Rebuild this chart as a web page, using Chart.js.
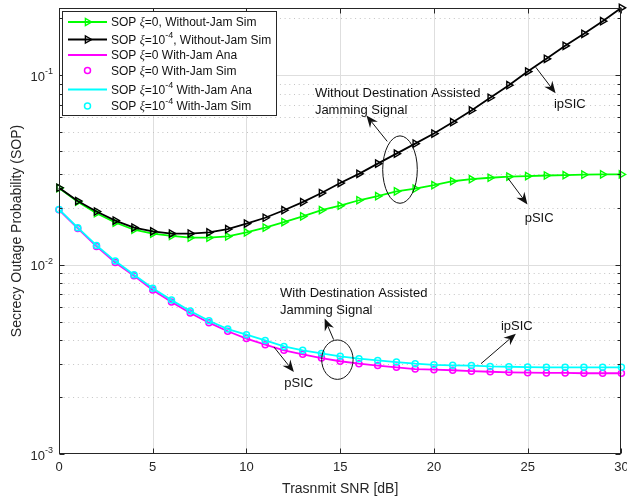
<!DOCTYPE html>
<html>
<head>
<meta charset="utf-8">
<script src="https://cdn.jsdelivr.net/npm/chart.js@4/dist/chart.umd.min.js"></script>
<style>
html,body{margin:0;padding:0;background:#fff}
canvas{display:block}
</style>
</head>
<body>
<canvas id="c" width="627" height="500"></canvas>
<script>
// Transmit SNR grid (dB)
const snr = [0,1,2,3,4,5,6,7,8,9,10,11,12,13,14,15,16,17,18,19,20,21,22,23,24,25,26,27,28,29,30];

// SOP without destination-assisted jamming (simulation)
const sopNoJamXi0 = [0.0254,0.0215,0.0187,0.0167,0.0153,0.0146,0.0142,0.0139,0.0139,0.0141,0.0148,0.0157,0.0168,0.0180,0.0194,0.0205,0.0219,0.0230,0.0244,0.0252,0.0263,0.0276,0.0283,0.0288,0.0292,0.0294,0.0296,0.0297,0.0299,0.0300,0.0300];
const sopNoJamXi4 = [0.0255,0.0217,0.0191,0.0171,0.0157,0.0150,0.0146,0.0146,0.0148,0.0154,0.0165,0.0177,0.0194,0.0214,0.0239,0.0270,0.0302,0.0342,0.0386,0.0436,0.0493,0.0566,0.0653,0.0762,0.0888,0.1048,0.1224,0.1433,0.1658,0.1933,0.2275];

// SOP with destination-assisted jamming (analysis; simulation points coincide)
const sopJamXi0 = [0.01950,0.01555,0.01249,0.01028,0.00873,0.00736,0.00636,0.00556,0.00494,0.00445,0.00407,0.00378,0.00353,0.00336,0.00321,0.00309,0.00300,0.00293,0.00287,0.00281,0.00279,0.00277,0.00274,0.00272,0.00270,0.00269,0.00268,0.00268,0.00267,0.00267,0.00267];
const sopJamXi4 = [0.01959,0.01568,0.01264,0.01045,0.00886,0.00750,0.00650,0.00569,0.00506,0.00457,0.00427,0.00398,0.00370,0.00353,0.00340,0.00328,0.00319,0.00312,0.00306,0.00300,0.00296,0.00294,0.00293,0.00290,0.00289,0.00288,0.00287,0.00287,0.00287,0.00287,0.00287];

// Axis ticks
const xTickValues = [0,5,10,15,20,25,30];
const yTickValues = [1e-3,1e-2,1e-1];
const yTickLabels = ['10^{-3}','10^{-2}','10^{-1}'];

// Legend entries
const seriesLabels = [
  'SOP ξ=0, Without-Jam Sim',
  'SOP ξ=10^{-4}, Without-Jam Sim',
  'SOP ξ=0 With-Jam Ana',
  'SOP ξ=0 With-Jam Sim',
  'SOP ξ=10^{-4} With-Jam Ana',
  'SOP ξ=10^{-4} With-Jam Sim'
];

const xTitle = 'Trasnmit SNR [dB]';
const yTitle = 'Secrecy Outage Probability (SOP)';

const GREEN = '#00ff00', BLACK = '#000000', MAGENTA = '#ff00ff', CYAN = '#00ffff';
const AXIS = '#262626';
const SANS = '"Liberation Sans", Arial, sans-serif';

const pts = arr => snr.map((x, i) => ({x, y: arr[i]}));

function richParts(str) {
  const out = []; let buf = ''; let i = 0;
  while (i < str.length) {
    if (str[i] === '^' && str[i + 1] === '{') {
      if (buf) { out.push({t: buf}); buf = ''; }
      const j = str.indexOf('}', i);
      out.push({t: str.slice(i + 2, j), sup: true});
      i = j + 1;
    } else if (str[i] === 'ξ') {
      if (buf) { out.push({t: buf}); buf = ''; }
      out.push({t: 'ξ', it: true});
      i++;
    } else { buf += str[i]; i++; }
  }
  if (buf) out.push({t: buf});
  return out;
}

function drawRich(ctx, str, x, y, size, align) {
  const parts = richParts(str);
  const fontFor = p => p.sup ? `${Math.round(size * 0.72)}px ${SANS}`
    : p.it ? `italic ${size}px "Liberation Serif", serif` : `${size}px ${SANS}`;
  let w = 0;
  parts.forEach(p => { ctx.font = fontFor(p); p.w = ctx.measureText(p.t).width; w += p.w; });
  let cx = align === 'right' ? x - w : align === 'center' ? x - w / 2 : x;
  ctx.textAlign = 'left';
  ctx.textBaseline = 'middle';
  parts.forEach(p => {
    ctx.font = fontFor(p);
    ctx.fillText(p.t, cx, p.sup ? y - size * 0.42 : y);
    cx += p.w;
  });
}

function drawArrow(ctx, x1, y1, x2, y2) {
  const a = Math.atan2(y2 - y1, x2 - x1);
  const ux = Math.cos(a), uy = Math.sin(a), px = -uy, py = ux;
  const L = 12, W = 5, N = 8;
  ctx.beginPath();
  ctx.moveTo(x1, y1);
  ctx.lineTo(x2 - ux * N, y2 - uy * N);
  ctx.stroke();
  ctx.beginPath();
  ctx.moveTo(x2, y2);
  ctx.lineTo(x2 - ux * L + px * W, y2 - uy * L + py * W);
  ctx.lineTo(x2 - ux * N, y2 - uy * N);
  ctx.lineTo(x2 - ux * L - px * W, y2 - uy * L - py * W);
  ctx.closePath();
  ctx.fill();
}

function triRight(ctx, x, y, r) {
  ctx.beginPath();
  ctx.moveTo(x + r, y);
  ctx.lineTo(x - r * 0.5, y - r * 0.866);
  ctx.lineTo(x - r * 0.5, y + r * 0.866);
  ctx.closePath();
  ctx.stroke();
}

// Callouts placed in data coordinates (snr, SOP)
const callouts = {
  texts: [
    {x: 13.65, y: 0.0802, lines: ['Without Destination Assisted', 'Jamming Signal'], align: 'left'},
    {x: 27.25, y: 0.0702, lines: ['ipSIC'], align: 'center'},
    {x: 25.61, y: 0.01755, lines: ['pSIC'], align: 'center'},
    {x: 11.79, y: 0.00703, lines: ['With Destination Assisted', 'Jamming Signal'], align: 'left'},
    {x: 12.79, y: 0.00235, lines: ['pSIC'], align: 'center'},
    {x: 24.42, y: 0.00472, lines: ['ipSIC'], align: 'center'}
  ],
  arrows: [
    {from: [17.51, 0.0448], to: [16.40, 0.0614]},
    {from: [25.43, 0.1105], to: [26.49, 0.0805]},
    {from: [23.93, 0.0288], to: [24.99, 0.0208]},
    {from: [14.65, 0.00402], to: [14.17, 0.00519]},
    {from: [11.47, 0.00367], to: [12.53, 0.00271]},
    {from: [22.51, 0.00300], to: [24.37, 0.00432]}
  ],
  ellipses: [
    {x: 18.19, y: 0.0318, rx: 17.3, ry: 33.7},
    {x: 14.85, y: 0.00315, rx: 15.7, ry: 19.7}
  ]
};

const frame = {
  id: 'frame',
  beforeDatasetsDraw(chart) {
    const {ctx, chartArea: ca, scales: {x, y}} = chart;
    ctx.save();
    // solid major grid
    ctx.strokeStyle = '#dedede';
    ctx.lineWidth = 1;
    xTickValues.forEach(v => {
      const px = Math.round(x.getPixelForValue(v)) + 0.5;
      if (px <= ca.left + 1 || px >= ca.right - 1) return;
      ctx.beginPath(); ctx.moveTo(px, ca.top); ctx.lineTo(px, ca.bottom); ctx.stroke();
    });
    yTickValues.forEach(v => {
      const py = Math.round(y.getPixelForValue(v)) + 0.5;
      if (py <= ca.top + 1 || py >= ca.bottom - 1) return;
      ctx.beginPath(); ctx.moveTo(ca.left, py); ctx.lineTo(ca.right, py); ctx.stroke();
    });
    // dotted minor grid
    ctx.strokeStyle = '#c4c4c4';
    ctx.setLineDash([1, 3.7]);
    yTickValues.forEach(d => {
      for (let m = 2; m <= 9; m++) {
        const v = d * m;
        if (v > y.max) break;
        const py = Math.round(y.getPixelForValue(v)) + 0.5;
        ctx.beginPath(); ctx.moveTo(ca.left, py); ctx.lineTo(ca.right, py); ctx.stroke();
      }
    });
    ctx.restore();
  },
  afterDatasetsDraw(chart) {
    const {ctx, chartArea: ca, scales: {x, y}} = chart;
    ctx.save();
    ctx.strokeStyle = AXIS;
    ctx.fillStyle = AXIS;
    ctx.lineWidth = 1;
    const L = Math.round(ca.left) + 0.5, R = Math.round(ca.right) - 0.5;
    const T = Math.round(ca.top) + 0.5, B = Math.round(ca.bottom) - 0.5;
    ctx.strokeRect(L, T, R - L, B - T);
    // ticks inside box
    ctx.beginPath();
    xTickValues.forEach(v => {
      const px = Math.round(x.getPixelForValue(v)) + 0.5;
      ctx.moveTo(px, B); ctx.lineTo(px, B - 5);
      ctx.moveTo(px, T); ctx.lineTo(px, T + 5);
    });
    yTickValues.forEach(d => {
      for (let m = 1; m <= 9; m++) {
        const v = d * m;
        if (v > y.max) break;
        const py = Math.round(y.getPixelForValue(v)) + 0.5;
        const len = m === 1 ? 5 : 3;
        ctx.moveTo(L, py); ctx.lineTo(L + len, py);
        ctx.moveTo(R, py); ctx.lineTo(R - len, py);
      }
    });
    ctx.stroke();
    // tick labels
    xTickValues.forEach(v => {
      drawRich(ctx, String(v), x.getPixelForValue(v), ca.bottom + 13, 13, 'center');
    });
    yTickValues.forEach((v, i) => {
      drawRich(ctx, yTickLabels[i], ca.left - 6, y.getPixelForValue(v) + 2, 13, 'right');
    });
    // axis titles
    drawRich(ctx, xTitle, (ca.left + ca.right) / 2, 489, 14, 'center');
    ctx.save();
    ctx.translate(17, (ca.top + ca.bottom) / 2);
    ctx.rotate(-Math.PI / 2);
    drawRich(ctx, yTitle, 0, 0, 14, 'center');
    ctx.restore();

    // callouts
    ctx.fillStyle = '#111';
    ctx.strokeStyle = '#111';
    ctx.lineWidth = 1;
    callouts.ellipses.forEach(e => {
      ctx.beginPath();
      ctx.ellipse(x.getPixelForValue(e.x), y.getPixelForValue(e.y), e.rx, e.ry, 0, 0, Math.PI * 2);
      ctx.stroke();
    });
    callouts.arrows.forEach(a => {
      drawArrow(ctx, x.getPixelForValue(a.from[0]), y.getPixelForValue(a.from[1]),
        x.getPixelForValue(a.to[0]), y.getPixelForValue(a.to[1]));
    });
    callouts.texts.forEach(t => {
      const px = x.getPixelForValue(t.x), py = y.getPixelForValue(t.y);
      t.lines.forEach((ln, k) => drawRich(ctx, ln, px, py + k * 17, 13, t.align));
    });

    // legend
    const box = {l: 62.5, t: 11.5, r: 276.5, b: 115.5};
    ctx.fillStyle = '#fff';
    ctx.fillRect(box.l, box.t, box.r - box.l, box.b - box.t);
    ctx.strokeStyle = AXIS;
    ctx.lineWidth = 1;
    ctx.strokeRect(box.l, box.t, box.r - box.l, box.b - box.t);
    const rowsY = [22, 39.5, 55, 70.5, 89.5, 106];
    chart.data.datasets.forEach((ds, i) => {
      const ry = rowsY[i];
      const x0 = 68, x1 = 107, xm = 87.5;
      ctx.strokeStyle = ds.borderColor;
      if (ds.showLine !== false) {
        ctx.lineWidth = ds.borderWidth;
        ctx.beginPath(); ctx.moveTo(x0, ry); ctx.lineTo(x1, ry); ctx.stroke();
      }
      if (ds.pointRadius > 0) {
        ctx.lineWidth = ds.pointBorderWidth;
        if (ds.pointStyle === 'circle') {
          ctx.beginPath(); ctx.arc(xm, ry, ds.pointRadius, 0, Math.PI * 2); ctx.stroke();
        } else {
          triRight(ctx, xm, ry, ds.pointRadius);
        }
      }
      ctx.fillStyle = '#111';
      drawRich(ctx, seriesLabels[i], 111, ry + 1, 12, 'left');
    });
    ctx.restore();
  }
};

const lineSet = (label, data, color, order) => ({
  label, data: pts(data), borderColor: color, backgroundColor: 'transparent',
  borderWidth: 1.8, pointRadius: 0, pointHoverRadius: 0, showLine: true,
  tension: 0, clip: false, order
});
const triSet = (label, data, color, order) => ({
  label, data: pts(data), borderColor: color, backgroundColor: 'transparent',
  borderWidth: 1.8, pointStyle: 'triangle', rotation: 90, pointRadius: 4.2,
  pointBorderWidth: 1.4, pointBorderColor: color, pointBackgroundColor: 'transparent',
  pointHoverRadius: 4.2, showLine: true, tension: 0, clip: false, order
});
const circSet = (label, data, color, order) => ({
  label, data: pts(data), borderColor: color, backgroundColor: 'transparent',
  borderWidth: 1.5, pointStyle: 'circle', pointRadius: 3,
  pointBorderWidth: 1.5, pointBorderColor: color, pointBackgroundColor: 'transparent',
  pointHoverRadius: 3, showLine: false, clip: false, order
});

new Chart(document.getElementById('c'), {
  type: 'line',
  data: {
    datasets: [
      triSet(seriesLabels[0], sopNoJamXi0, GREEN, 6),
      triSet(seriesLabels[1], sopNoJamXi4, BLACK, 5),
      lineSet(seriesLabels[2], sopJamXi0, MAGENTA, 4),
      circSet(seriesLabels[3], sopJamXi0, MAGENTA, 3),
      lineSet(seriesLabels[4], sopJamXi4, CYAN, 2),
      circSet(seriesLabels[5], sopJamXi4, CYAN, 1)
    ]
  },
  options: {
    responsive: false,
    animation: false,
    devicePixelRatio: 1,
    layout: {padding: {left: 59, top: 8, right: 3, bottom: 46}},
    plugins: {legend: {display: false}, tooltip: {enabled: false}},
    events: [],
    scales: {
      x: {type: 'linear', min: 0, max: 30, display: false},
      y: {type: 'logarithmic', min: 0.001, max: 0.227, display: false}
    }
  },
  plugins: [frame]
});
</script>
</body>
</html>
